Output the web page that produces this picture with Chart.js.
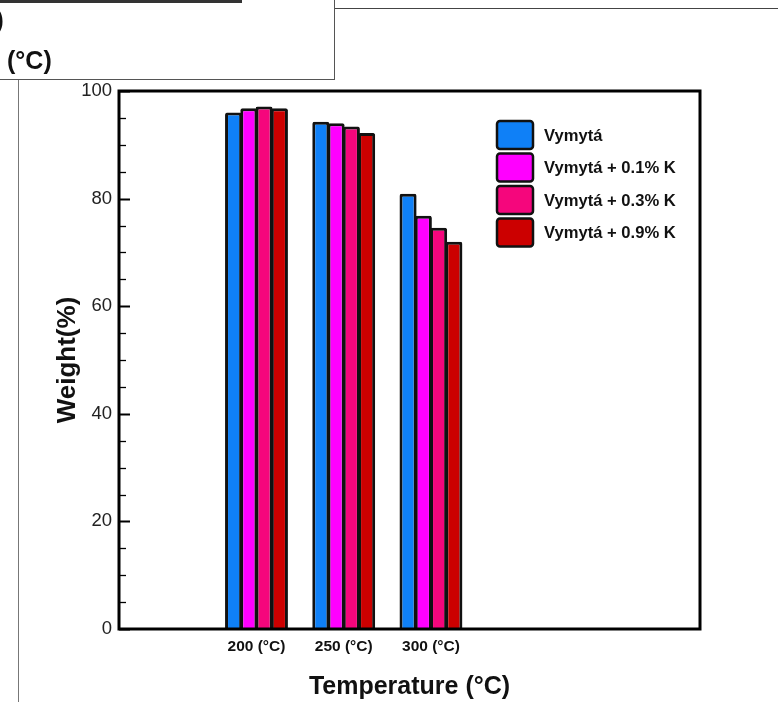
<!DOCTYPE html>
<html>
<head>
<meta charset="utf-8">
<script src="https://cdn.jsdelivr.net/npm/chart.js@4/dist/chart.umd.min.js"></script>
<style>
  html, body { margin: 0; padding: 0; background: #fff; }
  #wrap { position: relative; width: 778px; height: 702px; overflow: hidden; }
  #wrap canvas { position: absolute; left: 0; top: 0; }
  .ln { position: absolute; background: #555; }
  .txt { position: absolute; font-family: 'Liberation Sans', Arial, sans-serif; font-weight: bold; color: #111; line-height: 1; }
</style>
</head>
<body>
<div id="wrap">
  <canvas id="c" width="778" height="702"></canvas>
  <!-- edges of the neighbouring panels -->
  <div class="ln" style="left:0;top:0;width:242px;height:3px;background:#333"></div>
  <div class="ln" style="left:334px;top:0;width:1px;height:80px;"></div>
  <div class="ln" style="left:0;top:79px;width:335px;height:1px;"></div>
  <div class="ln" style="left:335px;top:8px;width:443px;height:1px;background:#444"></div>
  <div class="ln" style="left:18px;top:80px;width:1px;height:622px;background:#777"></div>
  <div class="txt" style="left:-4px;top:9px;font-size:23px">)</div>
  <div class="txt" style="left:7px;top:48px;font-size:25px">(°C)</div>
</div>
<script>
// Weight remaining after treatment at each temperature
const temperatures = [200, 250, 300];
const categories = ['200 (°C)', '250 (°C)', '300 (°C)'];
const seriesNames = ['Vymytá', 'Vymytá + 0.1% K', 'Vymytá + 0.3% K', 'Vymytá + 0.9% K'];
const vymyta   = [96.0, 94.3, 80.9];
const vymyta01 = [96.8, 94.0, 76.8];
const vymyta03 = [97.1, 93.4, 74.6];
const vymyta09 = [96.8, 92.2, 72.0];
const yTickValues = [0, 20, 40, 60, 80, 100];

const seriesValues = [vymyta, vymyta01, vymyta03, vymyta09];
const seriesColors = ['#0f80f7', '#ff00ff', '#f5067c', '#cc0000'];
const FONT = "'Liberation Sans', Arial, sans-serif";

// Bars are slightly wider than their slot so each one overlaps the previous border
const datasets = seriesNames.map((name, i) => ({
  label: name,
  data: temperatures.map((t, j) => ({ x: t, y: seriesValues[i][j] })),
  backgroundColor: seriesColors[i],
  borderColor: '#111',
  borderWidth: 3,
  borderRadius: 2,
  borderSkipped: 'bottom',
  categoryPercentage: 0.70,
  barPercentage: 1.12
}));

// Frame around the plot plus inward minor/major ticks on the value axis
const framePlugin = {
  id: 'frame',
  afterDatasetsDraw(chart) {
    const { ctx, chartArea: a, scales: { y } } = chart;
    ctx.save();
    ctx.strokeStyle = '#000';
    ctx.lineCap = 'butt';
    for (let v = 0; v <= 100; v += 5) {
      const py = Math.round(y.getPixelForValue(v)) + 0.5;
      const major = yTickValues.includes(v);
      ctx.lineWidth = major ? 2 : 1.3;
      ctx.beginPath();
      ctx.moveTo(a.left, py);
      ctx.lineTo(a.left + (major ? 11 : 7), py);
      ctx.stroke();
    }
    ctx.lineWidth = 3;
    ctx.strokeRect(a.left, a.top, a.right - a.left, a.bottom - a.top);
    ctx.restore();
  }
};

// Legend boxes in the upper right of the plot
const legendPlugin = {
  id: 'boxLegend',
  afterDraw(chart) {
    const { ctx } = chart;
    const x0 = 497, y0 = 121, w = 36, h = 28, step = 32.5;
    ctx.save();
    chart.data.datasets.forEach((ds, i) => {
      const top = y0 + i * step;
      ctx.beginPath();
      ctx.roundRect(x0, top, w, h, 3);
      ctx.fillStyle = ds.backgroundColor;
      ctx.fill();
      ctx.lineWidth = 2.5;
      ctx.strokeStyle = '#111';
      ctx.stroke();
      ctx.fillStyle = '#111';
      ctx.font = 'bold 16.6px ' + FONT;
      ctx.textBaseline = 'middle';
      ctx.textAlign = 'left';
      ctx.fillText(ds.label, x0 + 47, top + h / 2 + 1);
    });
    ctx.restore();
  }
};

new Chart(document.getElementById('c'), {
  type: 'bar',
  data: { datasets },
  options: {
    responsive: false,
    animation: false,
    layout: { padding: { left: 52, top: 91, right: 78, bottom: 0 } },
    plugins: { legend: { display: false }, tooltip: { enabled: false } },
    scales: {
      x: {
        type: 'linear',
        offset: false,
        min: 121.2,
        max: 454.2,
        grid: { display: false, drawTicks: false },
        border: { display: false },
        afterBuildTicks: (s) => { s.ticks = temperatures.map(v => ({ value: v })); },
        afterFit: (s) => { s.height = 73; },
        ticks: {
          padding: 8,
          maxRotation: 0,
          autoSkip: false,
          color: '#111',
          font: { family: FONT, size: 15.5, weight: 'bold' },
          callback: (v) => categories[temperatures.indexOf(v)]
        },
        title: {
          display: true,
          text: 'Temperature (°C)',
          color: '#111',
          padding: { top: 0, bottom: 0 },
          font: { family: FONT, size: 25, weight: 'bold' }
        }
      },
      y: {
        min: 0,
        max: 100,
        grid: { display: false, drawTicks: false },
        border: { display: false },
        afterBuildTicks: (s) => { s.ticks = yTickValues.map(v => ({ value: v })); },
        afterFit: (s) => { s.width = 67; },
        ticks: {
          padding: 7,
          color: '#222',
          font: { family: FONT, size: 18.5 }
        },
        title: {
          display: true,
          text: 'Weight(%)',
          color: '#111',
          padding: { top: 0, bottom: 0 },
          font: { family: FONT, size: 26, weight: 'bold' }
        }
      }
    }
  },
  plugins: [framePlugin, legendPlugin]
});
</script>
</body>
</html>
